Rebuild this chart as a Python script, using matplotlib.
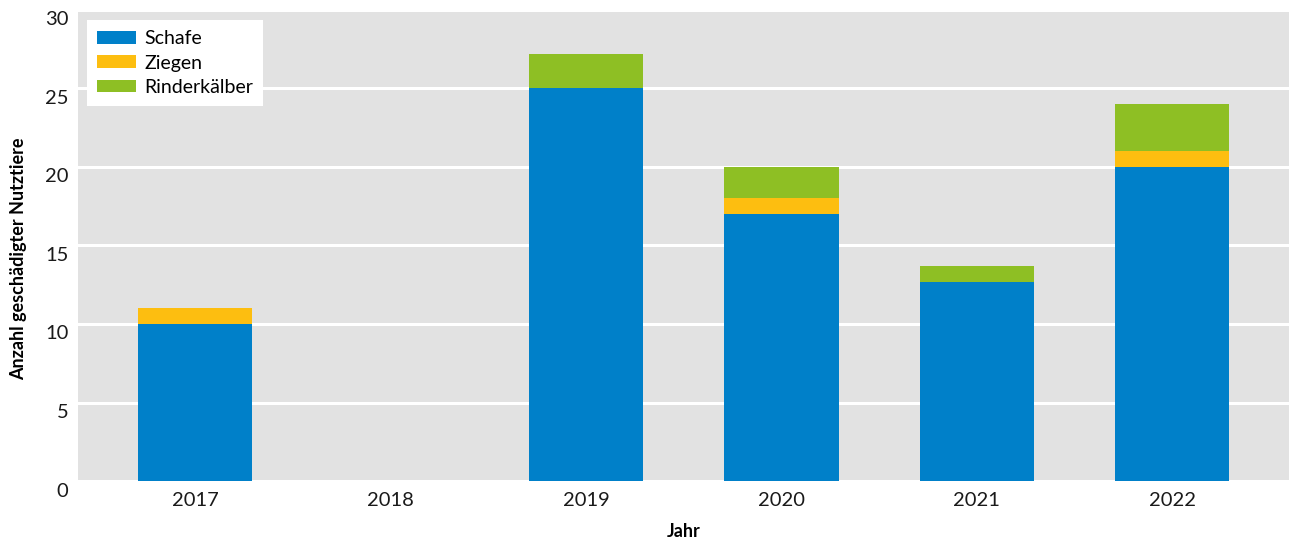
import numpy as np
import matplotlib.pyplot as plt
import matplotlib.transforms as mtransforms

plt.rcParams['font.family'] = ['Lato', 'DejaVu Sans']

jahre = ['2017', '2018', '2019', '2020', '2021', '2022']
schafe = [10, 0, 25, 17, 12.7, 20]
ziegen = [1, 0, 0, 1, 0, 1]
rinderkaelber = [0, 0, 2.2, 2, 1, 3]

farben = ['#0080c9', '#fdbe10', '#8ebf24']

fig = plt.figure(figsize=(12.92, 5.4), dpi=100)
ax = fig.add_axes([0.0604, 0.1087, 0.9376, 0.8735])
ax.set_facecolor('#e2e2e2')

x = np.arange(len(jahre))
breite = 0.585
unten = np.zeros(len(jahre))
for werte, name, farbe in zip([schafe, ziegen, rinderkaelber],
                              ['Schafe', 'Ziegen', 'Rinderkälber'], farben):
    ax.bar(x, werte, breite, bottom=unten, color=farbe, label=name, zorder=3)
    unten += np.array(werte)

ax.set_xlim(-0.6, 5.6)
ax.set_ylim(0, 30)
ax.set_yticks(range(0, 31, 5))
ax.set_xticks(x)
ax.set_xticklabels(jahre)
ax.grid(axis='y', color='white', linewidth=2.2, zorder=1)
ax.set_axisbelow(True)
for s in ax.spines.values():
    s.set_visible(False)
ax.tick_params(axis='both', length=0, labelsize=14.5, colors='#1a1a1a')
ax.tick_params(axis='y', pad=7)
ax.tick_params(axis='x', pad=8)

# Zahlen an der y-Achse etwas nach unten rücken
versatz = mtransforms.ScaledTranslation(0, -6 / 72, fig.dpi_scale_trans)
for lbl in ax.get_yticklabels():
    lbl.set_transform(lbl.get_transform() + versatz)

ax.set_xlabel('Jahr', fontsize=13, fontweight='bold', labelpad=10)
ax.set_ylabel('Anzahl geschädigter Nutztiere', fontsize=13, fontweight='bold')
ax.yaxis.set_label_coords(-0.042, 0.471)

leg = ax.legend(loc='upper left', bbox_to_anchor=(0.0074, 0.977), fontsize=14,
                frameon=True, fancybox=False, framealpha=1, edgecolor='none',
                handlelength=2.0, handleheight=0.62, labelspacing=0.38,
                borderpad=0.5, handletextpad=0.45, borderaxespad=0)
leg.get_frame().set_linewidth(0)

fig.savefig('out.png', dpi=100)
